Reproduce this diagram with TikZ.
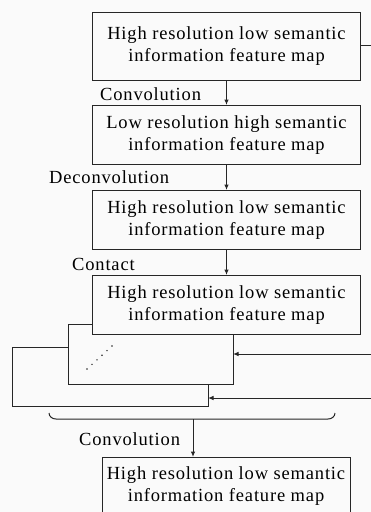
\documentclass[tikz,border=0pt]{standalone}
\usepackage{fontspec}
\setmainfont{Liberation Serif}[LetterSpace=4.5]
\usetikzlibrary{arrows.meta}
\definecolor{ink}{HTML}{262626}
\definecolor{paper}{HTML}{FAFAFA}
\begin{document}
\begin{tikzpicture}[x=1pt,y=-1pt,
  fmap/.style={draw=ink, line width=1pt, fill=paper, minimum width=268pt,
    minimum height=59pt, align=center, inner sep=0pt, text=black,
    font=\fontsize{18.5}{22}\selectfont, anchor=north west},
  sheet/.style={draw=ink, line width=1pt, fill=paper},
  lbl/.style={font=\fontsize{18.5}{22}\selectfont, anchor=base west, inner sep=0pt, text=black},
  flow/.style={draw=ink, line width=1pt, -{Latex[length=5.5pt,width=4.5pt]}},
  wire/.style={draw=ink, line width=1pt}]

  \fill[paper] (0,0) rectangle (371,512);
  \useasboundingbox (0,0) rectangle (371,512);

  % main chain of feature maps
  \node[fmap, minimum height=68pt] (b1) at (92,12) {High resolution low semantic\\information feature map};
  \node[fmap] (b2) at (92,105) {Low resolution high semantic\\information feature map};
  \node[fmap] (b3) at (92,190) {High resolution low semantic\\information feature map};

  % stacked sheets behind the concatenated map
  \draw[sheet] (12,347) rectangle (208,406);
  \draw[sheet] (68,324) rectangle (233,384);
  \coordinate (s2e) at (233,354);
  \node[fmap] (b4) at (92,275) {High resolution low semantic\\information feature map};

  % ellipsis across the sheets
  \foreach \i in {0,...,5}
    \fill[ink] ({87+\i*5},{369-\i*4.6}) circle (0.8pt);

  % output map, running past the lower edge
  \coordinate (b5top) at (226,457);
  \draw[wire] (102,530) |- (350,457) -- (350,530);
  \node[font=\fontsize{18.5}{22}\selectfont, align=center, inner sep=0pt, text=black, anchor=north]
    (b5) at (226,466) {High resolution low semantic\\information feature map};

  % labels
  \node[lbl] (l1) at (100,100) {Convolution};
  \node[lbl] (l2) at (49,183) {Deconvolution};
  \node[lbl] (l3) at (72,270) {Contact};
  \node[lbl] (l4) at (79,445) {Convolution};

  % arrows between maps
  \draw[flow] (b1.south) -- (b2.north);
  \draw[flow] (b2.south) -- (b3.north);
  \draw[flow] (b3.south) -- (b4.north);

  % side inputs entering from the right
  \coordinate (r0) at (371,45);
  \coordinate (r1) at (371,354);
  \coordinate (r2) at (371,398);
  \coordinate (s3in) at (208,398);
  \draw[wire] (b1.east |- r0) -- (r0);
  \draw[flow] (r1) -- (s2e);
  \draw[flow] (r2) -- (s3in);

  % bracket gathering the stack
  \coordinate (brl) at (49,413);
  \coordinate (brr) at (335,413);
  \coordinate (brm) at (193,419);
  \draw[wire] (brl) to[out=-90,in=180] (56,419) -- (328,419) to[out=0,in=-90] (brr);
  \draw[flow] (brm) -- (brm |- b5top);
\end{tikzpicture}
\end{document}
